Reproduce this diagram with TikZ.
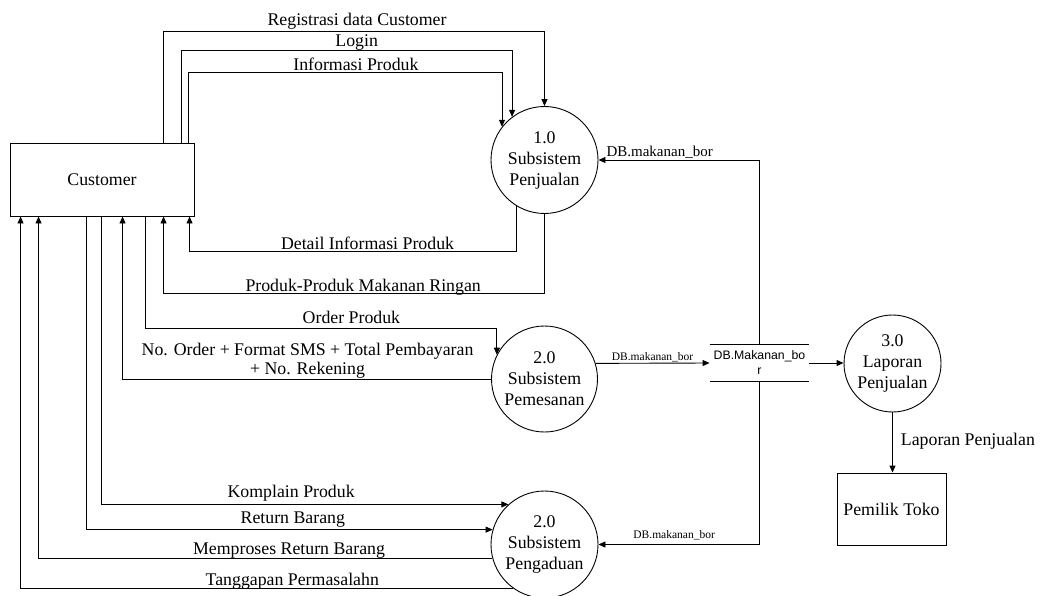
\documentclass[tikz,border=0pt]{standalone}
\usepackage{fontspec}
\setmainfont{Liberation Serif}
\newfontfamily\storefont{Liberation Sans}
\usetikzlibrary{arrows.meta}
\begin{document}
\begin{tikzpicture}[x=1pt,y=-1pt,
  line width=0.9pt,
  every node/.style={font=\fontsize{17.8}{21}\selectfont},
  entity/.style={draw, rectangle, inner sep=0pt},
  process/.style={draw, circle, inner sep=0pt, align=center},
  flow/.style={-{Triangle[length=7pt,width=6pt]}},
  lbl/.style={anchor=base, inner sep=0pt},
  dblbl/.style={lbl, font=\fontsize{11.5}{13}\selectfont},
]
\useasboundingbox (0,0) rectangle (1040,596);

% external entities
\node[entity, minimum width=184pt, minimum height=73pt] (cust) at (102,179.5) {Customer};
\node[entity, minimum width=109pt, minimum height=72pt] (owner) at (891.5,509) {Pemilik Toko};

% processes
\node[process, minimum size=107pt] (p1) at (544.5,160) {1.0\\Subsistem\\Penjualan};
\node[process, minimum size=106pt] (p2) at (544.5,379) {2.0\\Subsistem\\Pemesanan};
\node[process, minimum size=107pt] (p3) at (544.5,544.5) {2.0\\Subsistem\\Pengaduan};
\node[process, minimum size=97pt] (p4) at (892.5,363.5) {3.0\\Laporan\\Penjualan};

% data store
\node[minimum width=99pt, minimum height=36pt, inner sep=0pt, align=center,
      font=\storefont\fontsize{12.3}{15}\selectfont] (store) at (759.5,363) {DB.Makanan\_bo\\r};
\draw (store.north west) -- (store.north east)
      (store.south west) -- (store.south east);

% Customer <-> Subsistem Penjualan
\draw[flow] ([xshift=154pt]cust.north west) -- ++(0,-111)
  -| node[lbl, pos=0.254, yshift=6pt] {Registrasi data Customer} (p1.north);
\draw[flow] ([xshift=172pt]cust.north west) -- ++(0,-92)
  -| node[lbl, pos=0.265, yshift=4pt] {Login} (p1.127.4);
\draw[flow] ([xshift=179pt]cust.north west) -- ++(0,-70)
  -| node[lbl, pos=0.267, yshift=2.5pt] {Informasi Produk} (p1.142.6);
\draw[flow] (p1.239) -- (p1.239 |- 0,251)
  -| node[lbl, pos=0.228, yshift=2pt] {Detail Informasi Produk} ([xshift=180pt]cust.south west);
\draw[flow] (p1.south) -- (p1.south |- 0,293)
  -| node[lbl, pos=0.238, yshift=2pt] {Produk-Produk Makanan Ringan} ([xshift=154pt]cust.south west);

% Customer <-> Subsistem Pemesanan
\draw[flow] ([xshift=136pt]cust.south west) -- ++(0,112)
  -| node[lbl, pos=0.293, yshift=5pt] {Order Produk} (p2.153.7);
\draw[flow] (p2.west)
  -| node[pos=0.249, anchor=south, inner sep=0pt, align=center,
          font=\fontsize{17.8}{19.5}\selectfont]
     {No. Order + Format SMS + Total Pembayaran\\+ No. Rekening}
  ([xshift=113pt]cust.south west);

% Customer <-> Subsistem Pengaduan
\draw[flow] ([xshift=92pt]cust.south west)
  |- node[lbl, pos=0.733, yshift=7pt] {Komplain Produk} (p3.132.4);
\draw[flow] ([xshift=77pt]cust.south west)
  |- node[lbl, pos=0.754, yshift=6pt] {Return Barang} (p3.164.3);
\draw[flow] (p3.195.7)
  -| node[lbl, pos=0.224, yshift=4pt] {Memproses Return Barang} ([xshift=29pt]cust.south west);
\draw[flow] (p3.234.4)
  -| node[lbl, pos=0.224, yshift=3pt] {Tanggapan Permasalahn} ([xshift=11pt]cust.south west);

% data store flows
\draw[flow] (p2.17.6) -- node[dblbl, pos=0.5, yshift=3pt] {DB.makanan\_bor} (store.west);
\draw[flow] (store.north)
  |- node[lbl, pos=0.81, yshift=3pt, font=\fontsize{15}{17}\selectfont] {DB.makanan\_bor} (p1.east);
\draw[flow] (store.south)
  |- node[dblbl, pos=0.765, yshift=6pt] {DB.makanan\_bor} (p3.east);
\draw[flow] (store.east) -- (store.east -| p4.west);

% report to the shop owner
\draw[flow] (p4.south) -- node[pos=0.475, anchor=west, inner sep=0pt, xshift=8pt] {Laporan Penjualan}
  (p4.south |- owner.north);
\end{tikzpicture}
\end{document}
